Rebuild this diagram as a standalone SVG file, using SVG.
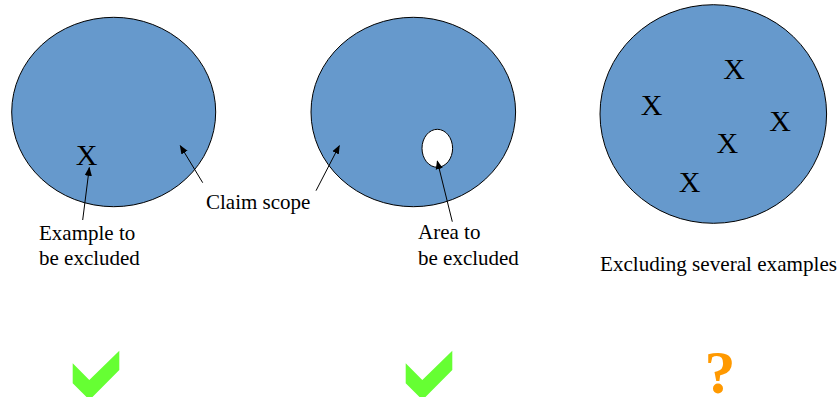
<svg xmlns="http://www.w3.org/2000/svg" width="840" height="397" viewBox="0 0 840 397">
  <defs>
    <marker id="ah" viewBox="0 0 10 10" refX="9" refY="5" markerWidth="9" markerHeight="9" markerUnits="userSpaceOnUse" orient="auto">
      <path d="M0,1 L10,5 L0,9 z" fill="#000"/>
    </marker>
    <style>
      .scope { fill: #6699CC; stroke: #000; stroke-width: 1; }
      .hole { fill: #FFFFFF; stroke: #000; stroke-width: 1; }
      .lbl { font-family: "Liberation Serif", "Times New Roman", serif; font-size: 21px; fill: #000; }
      .x { font-family: "Liberation Serif", "Times New Roman", serif; font-size: 30px; fill: #000; text-anchor: middle; }
      .conn { stroke: #000; stroke-width: 1; fill: none; marker-end: url(#ah); }
      .ok { fill: #66FF33; }
      .q { font-family: "Liberation Serif", "Times New Roman", serif; font-size: 62px; font-weight: bold; fill: #FF9900; text-anchor: middle; }
    </style>
  </defs>

  <g id="scope1">
    <ellipse class="scope" cx="113.7" cy="112" rx="102" ry="94.7"/>
    <text class="x" x="86.7" y="165">X</text>
  </g>

  <g id="scope2">
    <ellipse class="scope" cx="413.3" cy="112" rx="102.3" ry="94.7"/>
    <ellipse class="hole" cx="437.3" cy="148.3" rx="15.3" ry="19"/>
  </g>

  <g id="scope3">
    <ellipse class="scope" cx="713.3" cy="114" rx="113.3" ry="109.3"/>
    <text class="x" x="651.7" y="115">X</text>
    <text class="x" x="734" y="79">X</text>
    <text class="x" x="780" y="131">X</text>
    <text class="x" x="727.3" y="153">X</text>
    <text class="x" x="689.7" y="192">X</text>
  </g>

  <g id="label-example">
    <text class="lbl" x="39" y="240">Example to</text>
    <text class="lbl" x="39" y="265">be excluded</text>
  </g>

  <g id="label-claim">
    <text class="lbl" x="206" y="209">Claim scope</text>
  </g>

  <g id="label-area">
    <text class="lbl" x="418" y="239">Area to</text>
    <text class="lbl" x="418" y="265">be excluded</text>
  </g>

  <g id="label-several">
    <text class="lbl" x="600" y="271" textLength="237" lengthAdjust="spacingAndGlyphs">Excluding several examples</text>
  </g>

  <g id="connectors">
    <line class="conn" x1="82.7" y1="220" x2="89.3" y2="167.7"/>
    <line class="conn" x1="202.7" y1="182.7" x2="180.3" y2="145.7"/>
    <line class="conn" x1="316" y1="190.7" x2="339.3" y2="145.7"/>
    <line class="conn" x1="452.3" y1="221.7" x2="437.3" y2="161"/>
  </g>

  <g id="check1">
    <polygon class="ok" points="72.7,363.3 89.3,380 119.3,350.7 119.3,370 89.5,400 72.7,383.3"/>
  </g>
  <g id="check2">
    <polygon class="ok" points="405.7,363.3 422.3,380 452.3,350.7 452.3,370 422.5,400 405.7,383.3"/>
  </g>
  <g id="question">
    <text class="q" x="720" y="393">?</text>
  </g>
</svg>
